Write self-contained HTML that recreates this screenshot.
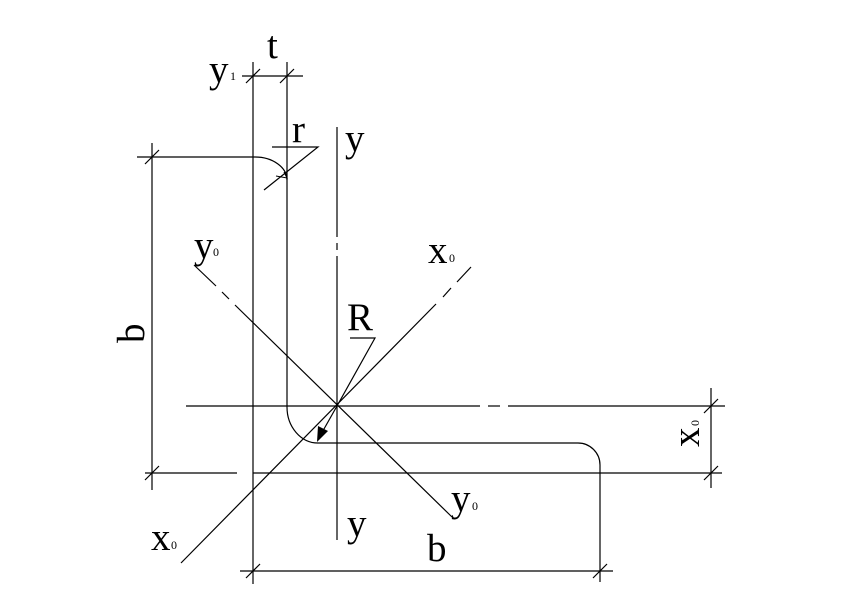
<!DOCTYPE html>
<html><head><style>body{margin:0;background:#fff}svg{display:block}text{font-family:"Liberation Serif",serif;fill:#000}</style></head>
<body>
<svg width="845" height="592" viewBox="0 0 845 592" xmlns="http://www.w3.org/2000/svg">
<g stroke="#000" stroke-width="1.2" fill="none">
<line x1="253" y1="62" x2="253" y2="584"/>
<line x1="287" y1="62" x2="287" y2="407"/>
<path d="M287 407 A31 36 0 0 0 318 443 L578 443 A22 22 0 0 1 600 465 L600 582"/>
<path d="M137 157 L255 157 A32 23 0 0 1 287 180"/>
<line x1="145" y1="473" x2="237" y2="473"/>
<line x1="253" y1="473" x2="722" y2="473"/>
<line x1="186" y1="406" x2="480" y2="406"/>
<line x1="488" y1="406" x2="500" y2="406"/>
<line x1="508" y1="406" x2="725" y2="406"/>
<line x1="337" y1="127" x2="337" y2="237"/>
<line x1="337" y1="243" x2="337" y2="250"/>
<line x1="337" y1="256" x2="337" y2="540"/>
<line x1="194" y1="265" x2="216" y2="286"/>
<line x1="222" y1="292" x2="229" y2="299"/>
<line x1="235" y1="305" x2="452" y2="517"/>
<line x1="181" y1="563" x2="436" y2="304"/>
<line x1="443" y1="297" x2="451" y2="288"/>
<line x1="457" y1="282" x2="471" y2="267"/>
<line x1="152" y1="143" x2="152" y2="490"/>
<line x1="145" y1="164" x2="159" y2="150"/>
<line x1="145" y1="480" x2="159" y2="466"/>
<line x1="240" y1="571" x2="613" y2="571"/>
<line x1="246" y1="578" x2="260" y2="564"/>
<line x1="593" y1="578" x2="607" y2="564"/>
<line x1="242" y1="76" x2="303" y2="76"/>
<line x1="246" y1="83" x2="260" y2="69"/>
<line x1="280" y1="83" x2="294" y2="69"/>
<line x1="711" y1="388" x2="711" y2="488"/>
<line x1="704" y1="413" x2="718" y2="399"/>
<line x1="704" y1="480" x2="718" y2="466"/>
<path d="M272 147 L318 147 L264 190"/>
<path d="M350 338 L375 338 L337 406"/>
<line x1="337" y1="406" x2="320" y2="436"/>
<path d="M276 176 L287 178 L284 172" stroke-width="1"/>
</g>
<polygon points="317,442 318,426 328,431" fill="#000"/>
<g font-size="39">
<text x="267" y="58">t</text>
<text x="209" y="82">y</text>
<text x="292" y="142">r</text>
<text x="345" y="151">y</text>
<text x="194" y="258">y</text>
<text x="428" y="263">x</text>
<text x="347" y="330">R</text>
<text x="451" y="511">y</text>
<text x="347" y="536">y</text>
<text x="427" y="561">b</text>
<text x="151" y="550">x</text>
<text transform="translate(144,343) rotate(-90)">b</text>
<text transform="translate(699,447) rotate(-90)">x</text>
</g>
<g font-size="12">
<text x="230" y="80">1</text>
<text x="213" y="256">0</text>
<text x="449" y="262">0</text>
<text x="472" y="510">0</text>
<text x="171" y="549">0</text>
<text transform="translate(699,426) rotate(-90)">0</text>
</g>
</svg>
</body></html>
